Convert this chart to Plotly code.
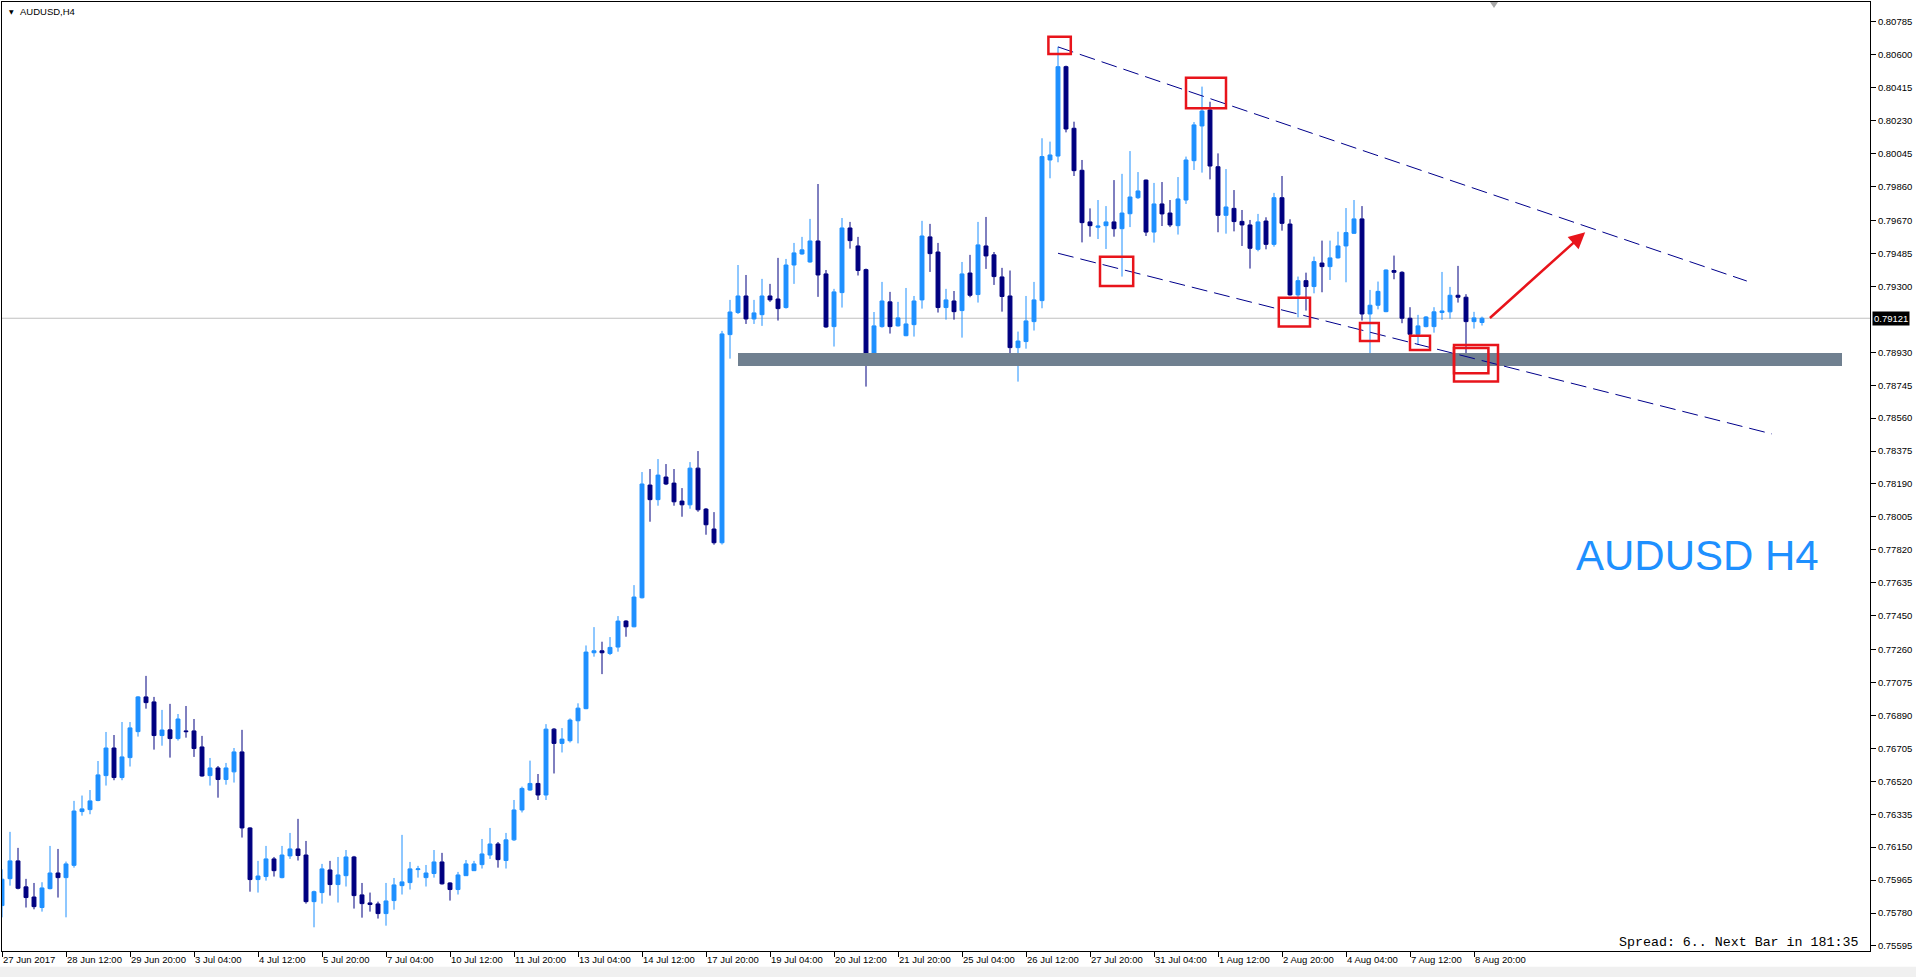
import plotly.graph_objects as go

# ---------------- data (AUDUSD H4, bar index 0 = 27 Jun 2017 04:00) ----------------
opens = [0.75822,0.75973,0.76073,0.75927,0.75870,0.75811,0.75917,0.76005,0.75979,0.76048,
0.76350,0.76361,0.76412,0.76552,0.76707,0.76541,0.76653,0.76799,0.76994,0.76966,
0.76777,0.76809,0.76760,0.76803,0.76803,0.76713,0.76552,0.76595,0.76530,0.76573,
0.76685,0.76258,0.75968,0.75985,0.76084,0.75979,0.76101,0.76140,0.76106,0.75844,
0.75895,0.76022,0.75940,0.75990,0.76095,0.75882,0.75837,0.75831,0.75777,0.75850,
0.75934,0.75951,0.76024,0.75979,0.76002,0.76067,0.75949,0.75912,0.75990,0.76018,
0.76052,0.76106,0.76168,0.76075,0.76191,0.76359,0.76471,0.76508,0.76443,0.76813,
0.76733,0.76748,0.76860,0.76928,0.77242,0.77253,0.77238,0.77274,0.77420,0.77388,
0.77551,0.78184,0.78102,0.78229,0.78195,0.78094,0.78073,0.78279,0.78049,0.77937,
0.77860,0.79029,0.79153,0.79246,0.79117,0.79141,0.79246,0.79229,0.79181,0.79420,
0.79482,0.79437,0.79555,0.79370,0.79074,0.79265,0.79628,0.79527,0.79394,0.78922,
0.79074,0.79213,0.79078,0.79023,0.79085,0.79224,0.79578,0.79493,0.79181,0.79218,
0.79164,0.79375,0.79254,0.79527,0.79477,0.79353,0.79246,0.78956,0.78990,0.79102,
0.79220,0.80010,0.80032,0.80534,0.80188,0.79952,0.79662,0.79632,0.79641,0.79662,
0.79624,0.79708,0.79798,0.79897,0.79605,0.79763,0.79712,0.79641,0.79785,0.80006,
0.80201,0.80291,0.79972,0.79699,0.79738,0.79665,0.79645,0.79508,0.79667,0.79536,
0.79798,0.79650,0.79252,0.79332,0.79299,0.79431,0.79411,0.79460,0.79527,0.79598,
0.79679,0.79145,0.79194,0.79158,0.79389,0.79379,0.79121,0.79031,0.79074,0.79074,
0.79153,0.79157,0.79250,0.79239,0.79102,0.79097]
highs = [0.76026,0.76236,0.76146,0.75972,0.75949,0.75953,0.76157,0.76140,0.76069,0.76410,
0.76440,0.76471,0.76634,0.76797,0.76780,0.76853,0.76853,0.76999,0.77112,0.76994,
0.76921,0.76955,0.76898,0.76943,0.76870,0.76775,0.76651,0.76606,0.76623,0.76707,
0.76809,0.76262,0.76073,0.76157,0.76095,0.76157,0.76230,0.76309,0.76185,0.75906,
0.76056,0.76073,0.76095,0.76134,0.76101,0.75949,0.75895,0.75844,0.75949,0.75977,
0.76219,0.76067,0.76045,0.76050,0.76134,0.76118,0.75953,0.76011,0.76078,0.76073,
0.76196,0.76258,0.76179,0.76230,0.76415,0.76490,0.76636,0.76561,0.76841,0.76819,
0.76819,0.76873,0.76958,0.77283,0.77386,0.77304,0.77330,0.77448,0.77425,0.77622,
0.78257,0.78274,0.78330,0.78302,0.78274,0.78167,0.78313,0.78375,0.78055,0.78032,
0.79050,0.79224,0.79420,0.79364,0.79224,0.79342,0.79314,0.79460,0.79454,0.79544,
0.79578,0.79679,0.79875,0.79392,0.79286,0.79684,0.79662,0.79578,0.79400,0.79156,
0.79325,0.79269,0.79213,0.79291,0.79246,0.79668,0.79651,0.79544,0.79286,0.79274,
0.79437,0.79477,0.79662,0.79690,0.79493,0.79404,0.79389,0.79046,0.79246,0.79325,
0.80132,0.80113,0.80646,0.80540,0.80225,0.80010,0.79738,0.79785,0.79751,0.79897,
0.79932,0.80060,0.79942,0.79900,0.79881,0.79886,0.79785,0.79914,0.80029,0.80223,
0.80422,0.80337,0.80047,0.79959,0.79841,0.79729,0.79673,0.79707,0.79688,0.79825,
0.79920,0.79677,0.79355,0.79377,0.79467,0.79557,0.79557,0.79607,0.79740,0.79785,
0.79751,0.79280,0.79327,0.79395,0.79473,0.79385,0.79183,0.79140,0.79133,0.79183,
0.79381,0.79297,0.79415,0.79256,0.79157,0.79130]
lows = [0.75756,0.75934,0.75913,0.75811,0.75801,0.75788,0.75913,0.75867,0.75756,0.76035,
0.76327,0.76335,0.76408,0.76496,0.76526,0.76526,0.76603,0.76771,0.76928,0.76698,
0.76720,0.76653,0.76749,0.76765,0.76657,0.76546,0.76496,0.76428,0.76501,0.76513,
0.76204,0.75900,0.75895,0.75962,0.75985,0.75975,0.76084,0.76075,0.75833,0.75700,
0.75833,0.75878,0.75839,0.75929,0.75805,0.75754,0.75788,0.75749,0.75709,0.75799,
0.75884,0.75912,0.75979,0.75929,0.75979,0.75940,0.75850,0.75884,0.75988,0.76016,
0.76030,0.76084,0.76035,0.76030,0.76185,0.76345,0.76467,0.76415,0.76415,0.76564,
0.76682,0.76738,0.76733,0.76925,0.77220,0.77122,0.77229,0.77248,0.77332,0.77385,
0.77547,0.77978,0.78068,0.78184,0.78068,0.78006,0.78051,0.78034,0.77905,0.77849,
0.77850,0.78894,0.79145,0.79089,0.79089,0.79078,0.79213,0.79108,0.79175,0.79314,
0.79478,0.79433,0.79241,0.79067,0.78962,0.79181,0.79512,0.79361,0.78737,0.78906,
0.79068,0.79035,0.79074,0.79020,0.79018,0.79175,0.79381,0.79153,0.79113,0.79113,
0.79012,0.79239,0.79209,0.79398,0.79308,0.79158,0.78906,0.78765,0.78950,0.79052,
0.79177,0.79907,0.79997,0.80165,0.79920,0.79547,0.79579,0.79566,0.79510,0.79579,
0.79355,0.79633,0.79791,0.79583,0.79546,0.79639,0.79633,0.79591,0.79763,0.79954,
0.79939,0.79901,0.79604,0.79596,0.79609,0.79527,0.79400,0.79497,0.79508,0.79523,
0.79613,0.79248,0.79126,0.79164,0.79261,0.79267,0.79336,0.79456,0.79323,0.79594,
0.79108,0.78896,0.79171,0.79155,0.79340,0.79093,0.79009,0.78971,0.79070,0.79040,
0.79112,0.79119,0.79209,0.78855,0.79063,0.79080]
closes = [0.75970,0.76073,0.75919,0.75867,0.75816,0.75921,0.76005,0.75979,0.76056,0.76353,
0.76365,0.76410,0.76556,0.76707,0.76541,0.76657,0.76820,0.76994,0.76962,0.76777,
0.76808,0.76760,0.76870,0.76799,0.76704,0.76550,0.76595,0.76530,0.76595,0.76685,
0.76258,0.75968,0.75988,0.76084,0.76018,0.76106,0.76140,0.76103,0.75844,0.75900,
0.76028,0.75940,0.75994,0.76095,0.75878,0.75833,0.75828,0.75777,0.75848,0.75938,
0.75955,0.76028,0.76028,0.76005,0.76067,0.75944,0.75912,0.75994,0.76056,0.76056,
0.76112,0.76168,0.76080,0.76191,0.76359,0.76480,0.76508,0.76443,0.76813,0.76733,
0.76757,0.76864,0.76931,0.77246,0.77253,0.77242,0.77272,0.77420,0.77388,0.77555,
0.78190,0.78102,0.78240,0.78190,0.78090,0.78073,0.78279,0.78045,0.77961,0.77860,
0.79033,0.79156,0.79246,0.79117,0.79151,0.79246,0.79224,0.79175,0.79420,0.79488,
0.79505,0.79555,0.79364,0.79072,0.79269,0.79628,0.79557,0.79389,0.78922,0.79078,
0.79218,0.79074,0.79123,0.79089,0.79218,0.79583,0.79484,0.79181,0.79224,0.79158,
0.79370,0.79250,0.79533,0.79471,0.79355,0.79243,0.78956,0.78993,0.79106,0.79224,
0.80029,0.80038,0.80534,0.80184,0.79950,0.79658,0.79641,0.79639,0.79662,0.79624,
0.79712,0.79802,0.79836,0.79605,0.79763,0.79707,0.79645,0.79791,0.80010,0.80207,
0.80285,0.79976,0.79699,0.79746,0.79664,0.79645,0.79514,0.79662,0.79536,0.79798,
0.79654,0.79252,0.79332,0.79299,0.79439,0.79411,0.79460,0.79527,0.79602,0.79679,
0.79145,0.79194,0.79272,0.79392,0.79379,0.79121,0.79031,0.79078,0.79128,0.79157,
0.79162,0.79250,0.79239,0.79102,0.79123,0.79121]

time_labels = ["27 Jun 2017", "28 Jun 12:00", "29 Jun 20:00", "3 Jul 04:00", "4 Jul 12:00",
               "5 Jul 20:00", "7 Jul 04:00", "10 Jul 12:00", "11 Jul 20:00", "13 Jul 04:00",
               "14 Jul 12:00", "17 Jul 20:00", "19 Jul 04:00", "20 Jul 12:00", "21 Jul 20:00",
               "25 Jul 04:00", "26 Jul 12:00", "27 Jul 20:00", "31 Jul 04:00", "1 Aug 12:00",
               "2 Aug 20:00", "4 Aug 04:00", "7 Aug 12:00", "8 Aug 20:00"]
bars_per_label = 8

price_ticks = [0.80785, 0.80600, 0.80415, 0.80230, 0.80045, 0.79860, 0.79670, 0.79485,
               0.79300, 0.78930, 0.78745, 0.78560, 0.78375, 0.78190, 0.78005, 0.77820,
               0.77635, 0.77450, 0.77260, 0.77075, 0.76890, 0.76705, 0.76520, 0.76335,
               0.76150, 0.75965, 0.75780, 0.75595]
current_price = 0.79121

# annotations drawn on the chart (bar index, price)
support_zone = (92.0, 230.0, 0.78853, 0.78926)
upper_channel = (132.0, 0.80645, 218.1, 0.79330)
lower_channel = (132.0, 0.79486, 221.25, 0.78471)
box_x0 = [130.8, 148.0, 137.25, 159.6, 169.75, 176.0, 181.5, 181.5]
box_x1 = [133.6, 153.0, 141.4, 163.5, 172.1, 178.5, 185.8, 187.0]
box_y0 = [0.80605, 0.80300, 0.79302, 0.79074, 0.78993, 0.78943, 0.78812, 0.78765]
box_y1 = [0.80702, 0.80472, 0.79467, 0.79236, 0.79094, 0.79023, 0.78954, 0.78971]
arrow_from = (185.8, 0.79115)
arrow_to = (197.9, 0.79604)

BULL = "#1e90ff"
BEAR = "#000080"
FONT = "Liberation Sans"

idx = list(range(len(opens)))

fig = go.Figure()
fig.add_trace(go.Candlestick(
    x=idx, open=opens, high=highs, low=lows, close=closes,
    increasing=dict(line=dict(color=BULL, width=1), fillcolor=BULL),
    decreasing=dict(line=dict(color=BEAR, width=1), fillcolor=BEAR),
    whiskerwidth=0, showlegend=False, hoverinfo="skip"))

shapes = []
shapes.append(dict(type="line", xref="paper", x0=0, x1=1, yref="y", y0=current_price,
                   y1=current_price, line=dict(color="#c0c0c0", width=1), layer="below"))
shapes.append(dict(type="rect", xref="x", yref="y", x0=support_zone[0], x1=support_zone[1],
                   y0=support_zone[2], y1=support_zone[3], fillcolor="#708090",
                   line=dict(width=0), layer="above"))
for (xa, ya, xb, yb) in (upper_channel, lower_channel):
    shapes.append(dict(type="line", xref="x", yref="y", x0=xa, y0=ya, x1=xb, y1=yb,
                       line=dict(color="#00008b", width=1, dash="16px,7px")))
for a, b, c, d in zip(box_x0, box_x1, box_y0, box_y1):
    shapes.append(dict(type="rect", xref="x", yref="y", x0=a, x1=b, y0=c, y1=d,
                       line=dict(color="#e8141b", width=2.5), fillcolor="rgba(0,0,0,0)"))
shapes.append(dict(type="path", xref="x", yref="paper",
                   path="M 186,1 L 187,1 L 186.5,0.9937 Z", fillcolor="#a8a8a8",
                   line=dict(width=0)))
shapes.append(dict(type="rect", xref="paper", yref="paper", x0=-0.002, x1=1.03,
                   y0=-0.0285, y1=-0.0165, fillcolor="#f0f0f0", line=dict(width=0)))

annotations = [
    dict(x=arrow_to[0], y=arrow_to[1], ax=arrow_from[0], ay=arrow_from[1],
         xref="x", yref="y", axref="x", ayref="y", text="", showarrow=True,
         arrowhead=2, arrowsize=1.3, arrowwidth=2.5, arrowcolor="#e8141b"),
    dict(x=211.9, y=0.77786, xref="x", yref="y", text="AUDUSD H4", showarrow=False,
         xanchor="center", yanchor="middle",
         font=dict(family=FONT, size=42, color=BULL)),
    dict(x=232.25, y=0.75612, xref="x", yref="y", text="Spread: 6.. Next Bar in 181:35",
         showarrow=False, xanchor="right", yanchor="middle",
         font=dict(family="Liberation Mono", size=13.3, color="black")),
    dict(x=0.0086, y=0.9905, xref="paper", yref="paper", text="AUDUSD,H4",
         showarrow=False, xanchor="left", yanchor="middle",
         font=dict(family=FONT, size=9.5, color="black")),
    dict(x=0.0027, y=0.9905, xref="paper", yref="paper", text="▼",
         showarrow=False, xanchor="left", yanchor="middle",
         font=dict(family="DejaVu Sans", size=6, color="black")),
    dict(x=1, y=current_price, xref="paper", yref="y", text=f"{current_price:.5f}",
         showarrow=False, xanchor="left", yanchor="middle", xshift=2,
         bgcolor="black", borderpad=1,
         font=dict(family=FONT, size=9.5, color="white")),
]

fig.update_layout(
    width=1916, height=977,
    margin=dict(l=2, r=46, t=2, b=26),
    paper_bgcolor="white", plot_bgcolor="white",
    showlegend=False,
    shapes=shapes, annotations=annotations,
    xaxis=dict(range=[0, 233.5], rangeslider=dict(visible=False), showgrid=False,
               zeroline=False, showline=True, mirror=True, linecolor="black", linewidth=1,
               tickmode="array",
               tickvals=[i * bars_per_label for i in range(len(time_labels))],
               ticktext=time_labels, ticks="outside", ticklen=5, tickcolor="black",
               ticklabelposition="outside right",
               tickfont=dict(family=FONT, size=9.5, color="black")),
    yaxis=dict(range=[0.755668, 0.808973], side="right", showgrid=False, zeroline=False,
               showline=True, mirror=True, linecolor="black", linewidth=1,
               tickmode="array", tickvals=price_ticks,
               ticktext=[f"{v:.5f}" for v in price_ticks],
               ticks="outside", ticklen=5, tickcolor="black",
               tickfont=dict(family=FONT, size=9.5, color="black")),
)

fig.write_html("out.html")
